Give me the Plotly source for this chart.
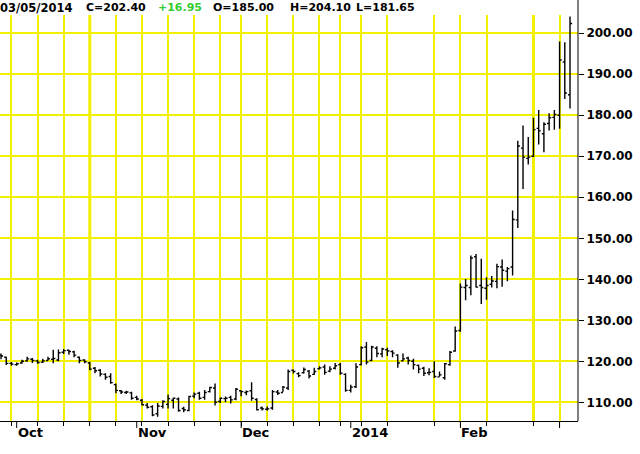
import pandas as pd
import plotly.graph_objects as go

# ---- calendar (trading days of the chart) ----
start_date = "2013-09-26"
end_date = "2014-03-05"
holidays = ["2013-11-28", "2013-12-25", "2014-01-01", "2014-01-20", "2014-02-17"]

# ---- OHLC values ----
opens = [121.5, 121.0, 119.5, 119.2, 119.6, 120.1, 120.5, 120.1, 119.8, 120.2,
         120.5, 120.3, 122.2, 122.7, 122.3, 121.0, 120.3, 119.6, 118.3, 117.8,
         116.8, 116.3, 114.3, 112.8, 112.4, 112.3, 111.2, 110.5, 109.3, 108.9,
         107.2, 109.0, 109.5, 110.5, 110.8, 108.5, 108.0, 111.5, 112.2, 111.2,
         112.6, 113.5, 110.2, 110.9, 111.2, 110.8, 112.8, 112.4, 112.8, 110.7,
         108.6, 108.3, 108.6, 112.5, 112.4, 113.5, 117.8, 117.0, 117.2, 117.6,
         116.8, 118.2, 118.6, 117.6, 118.3, 119.2, 116.8, 112.9, 113.8, 119.2,
         123.5, 120.2, 123.2, 121.8, 122.8, 122.4, 121.5, 120.1, 120.8, 120.0,
         119.0, 118.3, 117.2, 117.5, 116.2, 116.0, 119.2, 122.5, 127.5, 138.0,
         138.0, 145.5, 138.5, 137.8, 138.8, 139.5, 143.0, 142.0, 143.0, 154.5,
         172.0, 169.5, 170.0, 176.8, 175.5, 178.0, 179.5, 180.0, 193.0, 185.0]
highs = [121.9, 121.1, 119.8, 119.7, 120.4, 121.1, 120.8, 120.4, 120.6, 121.1,
         122.8, 122.9, 123.0, 122.8, 122.6, 121.2, 120.5, 119.9, 118.6, 118.1,
         117.1, 117.1, 114.6, 113.0, 112.8, 112.6, 111.6, 110.8, 109.8, 109.3,
         109.8, 110.5, 111.9, 111.2, 111.2, 108.9, 111.6, 112.4, 112.6, 113.0,
         113.8, 114.6, 111.2, 111.4, 111.6, 113.5, 112.9, 112.9, 114.9, 111.0,
         109.0, 109.0, 113.0, 113.0, 114.0, 118.0, 118.0, 117.3, 118.5, 117.9,
         118.4, 118.8, 119.2, 118.8, 119.6, 119.6, 117.1, 114.3, 119.5, 123.7,
         124.7, 123.8, 123.7, 123.3, 123.3, 122.7, 121.7, 121.9, 121.1, 120.6,
         119.2, 118.7, 118.3, 120.0, 117.5, 119.6, 122.5, 128.5, 139.0, 140.1,
         145.8, 146.2, 145.0, 140.5, 140.8, 143.8, 144.8, 143.0, 156.8, 173.8,
         177.5, 174.7, 179.4, 181.3, 178.3, 180.5, 181.3, 198.0, 197.8, 204.1]
lows = [120.5, 119.1, 118.9, 118.9, 119.4, 119.9, 119.6, 119.4, 119.6, 120.2,
        119.5, 120.0, 121.8, 121.6, 121.0, 119.5, 119.5, 117.8, 117.1, 116.3,
        115.5, 114.5, 112.2, 112.0, 112.0, 110.6, 110.5, 109.2, 108.5, 106.6,
        106.5, 108.5, 108.5, 108.5, 107.7, 107.6, 107.8, 111.0, 110.6, 110.6,
        112.4, 109.2, 109.8, 110.0, 109.7, 110.5, 111.5, 111.7, 110.4, 108.0,
        108.0, 108.0, 108.2, 111.8, 112.6, 113.0, 117.0, 116.1, 117.0, 115.8,
        116.7, 118.0, 116.7, 117.3, 118.0, 116.7, 112.6, 112.4, 113.5, 119.0,
        119.2, 120.0, 121.0, 121.0, 121.3, 121.0, 118.4, 120.0, 119.2, 118.0,
        117.1, 116.4, 116.6, 115.9, 116.3, 115.5, 118.9, 122.3, 127.2, 134.9,
        136.1, 138.0, 134.0, 135.0, 138.0, 137.8, 138.2, 139.5, 140.9, 152.5,
        162.0, 168.0, 169.8, 172.9, 171.0, 176.3, 176.5, 176.7, 184.0, 181.65]
closes = [121.3, 119.5, 119.3, 119.4, 120.0, 120.6, 120.2, 119.7, 120.1, 120.6,
          120.7, 122.1, 122.6, 122.4, 121.5, 120.2, 119.9, 118.1, 117.7, 116.9,
          116.1, 114.8, 112.9, 112.5, 112.5, 111.0, 110.8, 109.4, 108.8, 106.9,
          109.1, 110.2, 110.9, 111.0, 108.0, 108.2, 111.4, 112.0, 111.0, 112.4,
          113.6, 110.0, 111.0, 111.0, 110.6, 113.2, 112.6, 112.6, 111.0, 108.2,
          108.4, 108.4, 112.6, 112.2, 113.7, 117.5, 117.5, 116.5, 118.0, 116.4,
          117.5, 118.4, 117.3, 118.1, 118.9, 117.1, 112.9, 113.7, 118.6, 123.3,
          119.8, 123.5, 121.9, 123.0, 122.5, 122.0, 119.6, 120.6, 120.2, 119.2,
          118.1, 117.1, 117.3, 116.3, 116.7, 119.4, 122.2, 127.4, 138.1, 138.5,
          145.2, 138.1, 138.0, 138.5, 139.6, 143.1, 142.2, 142.6, 154.6, 172.5,
          169.8, 169.8, 176.5, 176.2, 177.8, 179.4, 180.2, 193.5, 185.45, 202.4]

# ---- labels ----
month_labels = ["Oct", "Nov", "Dec", "2014", "Feb", ""]
y_tick_values = [110, 120, 130, 140, 150, 160, 170, 180, 190, 200]
header_texts = ["03/05/2014", "C=202.40", "+16.95", "O=185.00", "H=204.10", "L=181.65"]
header_colors = ["#000000", "#000000", "#33cc33", "#000000", "#000000", "#000000"]
header_sizes = [11.5, 11, 11, 11, 11, 11]
header_px = [0, 86, 158, 213, 290, 356]
bold_grid_dates = ["2013-10-21", "2014-02-24"]

# ---- derived positions ----
dates = pd.bdate_range(start_date, end_date, freq="C", holidays=holidays)
xs = list(range(len(dates)))
mondays = [i for i, d in enumerate(dates) if d.weekday() == 0]
month_starts = [i for i in range(1, len(dates)) if dates[i].month != dates[i - 1].month]
bold_idx = [i for i, d in enumerate(dates) if d.strftime("%Y-%m-%d") in bold_grid_dates]

W, H = 640, 454
ml, mr, mt, mb = 0, 62, 15, 33
plot_w = W - ml - mr
plot_h = H - mt - mb
YEL = "#f2f000"
FONT = "DejaVu Sans"

fig = go.Figure()
fig.add_trace(go.Ohlc(
    x=xs, open=opens, high=highs, low=lows, close=closes,
    increasing=dict(line=dict(color="black", width=1.4)),
    decreasing=dict(line=dict(color="black", width=1.4)),
    tickwidth=0.4, hoverinfo="skip", showlegend=False,
))

shapes = []
for i in bold_idx:
    shapes.append(dict(type="line", xref="x", yref="paper", x0=i, x1=i, y0=0, y1=1,
                       line=dict(color=YEL, width=3), layer="below"))
for i in month_starts:
    shapes.append(dict(type="line", xref="x", yref="paper", x0=i, x1=i, y0=0,
                       y1=-7 / plot_h, line=dict(color="black", width=1)))
# right axis line running to the top of the picture
shapes.append(dict(type="line", xref="paper", yref="paper", x0=1, x1=1, y0=0,
                   y1=(plot_h + mt) / plot_h, line=dict(color="black", width=1)))

annotations = []
for i, lab in zip(month_starts, month_labels):
    if lab:
        annotations.append(dict(x=i, y=0, xref="x", yref="paper", text=lab,
                                xanchor="left", yanchor="top", showarrow=False,
                                xshift=1, yshift=-4, borderpad=0, borderwidth=0,
                                font=dict(family=FONT, size=13, color="black", weight="bold")))
for t, c, s, px in zip(header_texts, header_colors, header_sizes, header_px):
    annotations.append(dict(x=px / plot_w, y=(plot_h + mt - 7.5) / plot_h, xref="paper",
                            yref="paper", text=t, xanchor="left", yanchor="middle",
                            showarrow=False, borderpad=0, borderwidth=0,
                            font=dict(family=FONT, size=s, color=c, weight="bold")))

fig.update_layout(
    width=W, height=H,
    margin=dict(l=ml, r=mr, t=mt, b=mb, pad=0),
    paper_bgcolor="white", plot_bgcolor="white",
    showlegend=False,
    shapes=shapes, annotations=annotations,
    xaxis=dict(
        range=[-0.2, 110.53], rangeslider=dict(visible=False),
        tickmode="array", tickvals=mondays, showticklabels=False,
        ticks="outside", ticklen=4, tickcolor="black", tickwidth=1,
        showgrid=True, gridcolor=YEL, gridwidth=1.5,
        showline=True, linecolor="black", linewidth=1, zeroline=False,
    ),
    yaxis=dict(
        range=[105.44, 204.46], side="right",
        tickmode="array", tickvals=y_tick_values, tickformat=".2f",
        ticks="outside", ticklen=5, tickcolor="black", tickwidth=1,
        showgrid=True, gridcolor=YEL, gridwidth=1.5, zeroline=False,
        showline=False,
        tickfont=dict(family=FONT, size=12, color="black", weight="bold"),
    ),
)

fig.write_html("out.html", config={"displayModeBar": False},
               post_script="document.body.style.margin='0';")
